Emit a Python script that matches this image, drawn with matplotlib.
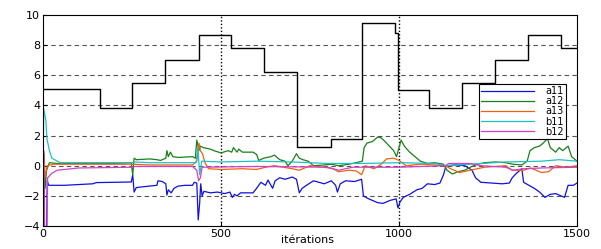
import numpy as np
import matplotlib
matplotlib.use("Agg")
import matplotlib.pyplot as plt

# black reference (stepped)
ref_it = [0, 160, 250, 343, 438, 528, 621, 714, 808, 897, 990, 997, 1085, 1177, 1270, 1363, 1455, 1500]
ref_val = [5.1, 3.8, 5.5, 7.0, 8.7, 7.8, 6.2, 1.25, 1.75, 9.5, 8.8, 5.0, 3.8, 5.5, 7.0, 8.7, 7.8, 7.8]

a11_it = [0, 3, 5, 9, 12, 16, 60, 100, 140, 150, 200, 248, 252, 256, 262, 280, 300, 320, 323, 335,
          345, 348, 352, 360, 368, 380, 400, 420, 425, 432, 436, 440, 443, 447, 452, 470, 490, 510,
          525, 532, 538, 545, 555, 590, 600, 612, 625, 632, 645, 652, 665, 680, 700, 712, 720, 728,
          740, 760, 790, 810, 822, 827, 835, 850, 875, 895, 900, 915, 940, 955, 975, 992, 997, 1003,
          1012, 1030, 1050, 1065, 1080, 1100, 1115, 1125, 1132, 1160, 1185, 1205, 1215, 1230, 1260,
          1290, 1310, 1318, 1330, 1345, 1350, 1365, 1380, 1395, 1410, 1425, 1440, 1455, 1465, 1475,
          1490, 1500]
a11 = [0, -0.5, -6, -6, -1.0, -1.3, -1.3, -1.25, -1.2, -1.12, -1.1, -1.08, -0.6, -1.75, -1.45, -1.4,
       -1.35, -1.3, -1.0, -1.05, -1.2, -1.95, -1.6, -1.8, -1.5, -1.35, -1.3, -1.3, -1.1, -1.15, -3.6,
       -2.5, -1.2, -2.0, -1.7, -1.8, -1.75, -1.85, -1.75, -2.1, -1.9, -2.0, -1.8, -1.8, -1.5, -1.1,
       -1.3, -0.95, -1.5, -1.0, -0.8, -0.9, -0.75, -0.9, -1.8, -1.5, -1.3, -1.0, -1.2, -1.0, -1.3,
       -1.75, -1.2, -1.0, -1.05, -0.9, -2.0, -2.2, -2.45, -2.5, -2.3, -2.2, -2.8, -2.4, -2.1, -1.9,
       -1.6, -1.5, -1.2, -1.25, -1.15, -0.6, 0.0, 0.05, 0.0, -0.3, -0.8, -1.1, -1.15, -1.2, -1.15,
       -0.8, -0.5, -0.2, -1.1, -1.3, -1.5, -1.75, -2.1, -1.9, -1.85, -2.0, -2.1, -1.3, -1.3, -1.15]

a12_it = [0, 3, 6, 10, 18, 40, 100, 200, 248, 252, 256, 262, 300, 320, 330, 345, 348, 352, 358, 365,
          380, 420, 428, 432, 438, 442, 450, 470, 480, 500, 520, 530, 535, 545, 550, 560, 590, 600,
          606, 620, 640, 650, 665, 680, 688, 700, 712, 720, 730, 745, 760, 790, 810, 830, 860, 880,
          897, 902, 910, 925, 940, 950, 965, 985, 993, 1000, 1006, 1015, 1030, 1045, 1060, 1080, 1100,
          1125, 1135, 1150, 1165, 1185, 1200, 1220, 1240, 1270, 1300, 1320, 1345, 1360, 1368, 1380,
          1395, 1405, 1417, 1425, 1440, 1450, 1460, 1475, 1485, 1500]
a12 = [0, 0.8, -1.5, -0.3, 0.2, 0.15, 0.15, 0.15, 0.2, -0.6, 0.5, 0.4, 0.45, 0.4, 0.35, 0.5, 1.0, 0.6,
       0.9, 0.6, 0.55, 0.6, 0.5, 1.7, 1.0, 1.3, 1.2, 1.1, 1.0, 0.85, 1.0, 0.9, 1.2, 0.9, 1.1, 0.9, 0.9,
       0.75, 0.35, 0.5, 0.6, 0.7, 0.4, 0.3, 0.0, 0.3, 0.8, 0.5, 0.4, 0.3, 0.0, 0.05, 0.1, 0.0, 0.1,
       0.2, 0.3, 1.2, 1.5, 1.6, 1.9, 1.85, 1.5, 1.0, 0.6, 1.2, 1.7, 1.3, 0.9, 0.6, 0.3, 0.15, 0.2, 0.1,
       -0.3, -0.55, -0.4, -0.3, -0.1, 0.1, 0.2, 0.25, 0.2, 0.1, 0.05, 0.3, 1.0, 1.2, 1.3, 1.5, 1.8,
       1.2, 0.9, 1.2, 1.0, 1.3, 0.6, 0.3]

a13_it = [0, 3, 6, 12, 30, 250, 300, 420, 432, 438, 442, 448, 455, 465, 500, 560, 600, 625, 650, 700,
          720, 750, 790, 815, 830, 860, 880, 895, 905, 930, 950, 965, 985, 1000, 1020, 1060, 1100,
          1130, 1145, 1170, 1200, 1240, 1300, 1318, 1350, 1370, 1400, 1420, 1440, 1470, 1500]
a13 = [0, 0.5, -0.8, 0.0, 0.1, 0.1, 0.05, 0.05, 0.3, 1.5, 1.0, 0.8, 0.2, -0.2, -0.25, -0.2, -0.25,
       -0.1, 0.0, -0.2, -0.3, 0.0, -0.1, -0.2, -0.4, -0.3, -0.35, -0.6, 0.0, -0.2, 0.1, 0.45, 0.5,
       0.35, 0.0, 0.1, 0.05, 0.0, -0.2, -0.45, -0.3, -0.1, 0.0, -0.3, -0.3, -0.15, -0.45, -0.4, 0.0,
       -0.1, 0.0]

b11_it = [0, 2, 8, 11, 18, 25, 48, 150, 250, 255, 300, 430, 435, 440, 446, 500, 600, 700, 800, 900,
          1000, 1100, 1130, 1200, 1300, 1400, 1450, 1500]
b11 = [0, 3.8, 3.0, 1.8, 1.0, 0.5, 0.2, 0.2, 0.2, 0.25, 0.2, 0.2, 1.2, -0.6, 0.3, 0.25, 0.3, 0.25,
       0.15, 0.15, 0.2, 0.15, 0.0, 0.1, 0.25, 0.3, 0.4, 0.3]

b12_it = [0, 2, 5, 10, 13, 25, 40, 100, 250, 260, 420, 432, 437, 442, 447, 600, 800, 830, 870, 1000,
          1130, 1140, 1200, 1230, 1300, 1320, 1350, 1400, 1500]
b12 = [0, 1.0, -6, -6, -0.8, -0.5, -0.3, -0.15, -0.1, -0.05, -0.05, -0.3, -1.0, -0.8, -0.1, -0.05,
       -0.1, -0.3, -0.1, -0.1, 0.0, 0.15, 0.15, 0.0, -0.1, -0.3, -0.2, -0.15, -0.1]

fig = plt.figure(figsize=(6.01, 2.49), dpi=100)
ax = fig.add_axes([43 / 601, 1 - 226 / 249, (577 - 43) / 601, (226 - 15) / 249])

ax.step(ref_it, ref_val, where='post', color='k', lw=1.0)
ax.plot(a11_it, a11, color='#1010e0', lw=0.9, label='a11')
ax.plot(a12_it, a12, color='#1a7f1a', lw=0.9, label='a12')
ax.plot(a13_it, a13, color='#f06010', lw=0.9, label='a13')
ax.plot(b11_it, b11, color='#20c0c0', lw=0.9, label='b11')
ax.plot(b12_it, b12, color='#d040c8', lw=0.9, label='b12')

ax.set_xlim(0, 1500)
ax.set_ylim(-4, 10)
ax.set_xticks([0, 500, 1000, 1500])
ax.set_yticks(np.arange(-4, 11, 2))
ax.tick_params(direction='in', length=3, labelsize=8, pad=2)

# grid: dashed horizontal, dotted vertical
for yv in [-2, 0, 2, 4, 6, 8]:
    ax.axhline(yv, color='#555555', ls=(0, (4, 3)), lw=0.8, zorder=0)
for xv in [500, 1000]:
    ax.axvline(xv, color='k', ls=(0, (1, 1.5)), lw=1.0, zorder=0)

for s in ax.spines.values():
    s.set_linewidth(0.8)

ax.set_xlabel('itérations', fontsize=8)
ax.xaxis.set_label_coords(0.495, -0.045)

leg = ax.legend(loc='upper left', bbox_to_anchor=(0.816, 0.675), fontsize=7,
                frameon=True, fancybox=False, framealpha=1, edgecolor='k',
                handlelength=5.4, labelspacing=0.02, borderpad=0.25, handletextpad=1.2,
                borderaxespad=0)
leg.get_frame().set_linewidth(0.8)

fig.savefig('out.png', dpi=100)
